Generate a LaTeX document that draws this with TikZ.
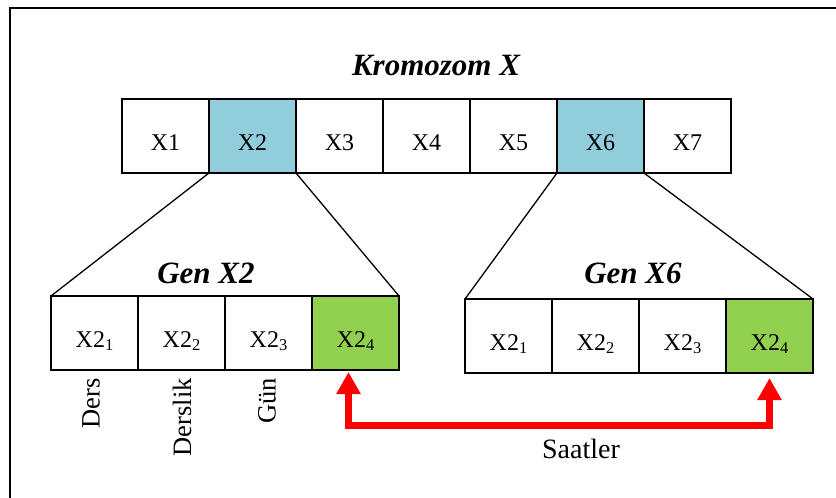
\documentclass[tikz,border=0pt]{standalone}
\usepackage{fontspec}
\setmainfont{Liberation Serif}
\usetikzlibrary{arrows.meta}
\definecolor{genblue}{HTML}{92CDDC}
\definecolor{gengreen}{HTML}{92D050}
\definecolor{linkred}{HTML}{FF0000}
\newcommand\lowsub[1]{\raisebox{-3pt}{\fontsize{16.5}{16.5}\selectfont #1}}

\begin{document}
\begin{tikzpicture}[x=1pt,y=-1pt,
  cell/.style={draw, line width=1.6pt, fill=white, inner sep=0pt, outer sep=0pt,
    minimum width=87pt, minimum height=74pt,
    font=\fontsize{24}{28}\selectfont, text height=29pt, text depth=0pt},
  title/.style={font=\fontsize{31}{36}\selectfont\bfseries\itshape, inner sep=0pt, anchor=base},
  zoomline/.style={line width=1.3pt},
  vlabel/.style={rotate=90, anchor=east, inner sep=0pt, font=\fontsize{26.5}{30}\selectfont},
  caption/.style={inner sep=0pt, anchor=base, font=\fontsize{28}{32}\selectfont},
  link/.style={draw=linkred, line width=7pt,
    {Triangle[width=23pt,length=22pt]}-{Triangle[width=23pt,length=22pt]}}
]
\useasboundingbox (0,0) rectangle (836,498);

% outer frame
\draw[line width=2pt] (9.5,498) -- (9.5,7.5) -- (836,7.5);

% chromosome
\node[title] (krom) at (436,75) {Kromozom X};
\node[cell] (c1) at (165.5,136) {X1};
\node[cell, fill=genblue] (c2) at (252.5,136) {X2};
\node[cell] (c3) at (339.5,136) {X3};
\node[cell] (c4) at (426.5,136) {X4};
\node[cell] (c5) at (513.5,136) {X5};
\node[cell, fill=genblue] (c6) at (600.5,136) {X6};
\node[cell] (c7) at (687.5,136) {X7};

% gene X2
\node[title] (genA) at (206,283) {Gen X2};
\node[cell] (a1) at (94.5,333) {X2\lowsub{1}};
\node[cell] (a2) at (181.5,333) {X2\lowsub{2}};
\node[cell] (a3) at (268.5,333) {X2\lowsub{3}};
\node[cell, fill=gengreen] (a4) at (355.5,333) {X2\lowsub{4}};

% gene X6
\node[title] (genB) at (633,283) {Gen X6};
\node[cell] (b1) at (508.5,336) {X2\lowsub{1}};
\node[cell] (b2) at (595.5,336) {X2\lowsub{2}};
\node[cell] (b3) at (682.5,336) {X2\lowsub{3}};
\node[cell, fill=gengreen] (b4) at (769.5,336) {X2\lowsub{4}};

% zoom lines from chromosome to genes
\draw[zoomline] (c2.south west) -- (a1.north west);
\draw[zoomline] (c2.south east) -- (a4.north east);
\draw[zoomline] (c6.south west) -- (b1.north west);
\draw[zoomline] (c6.south east) -- (b4.north east);

% gene meanings
\node[vlabel] (ders) at (91,378) {Ders};
\node[vlabel] (derslik) at (182,378) {Derslik};
\node[vlabel] (gun) at (267,378) {Gün};

% link between the fourth genes
\draw[link] ([xshift=-7pt,yshift=-2pt]a4.south) -- ++(0,53) -| ([yshift=-5pt]b4.south);
\node[caption] (saat) at (581,458) {Saatler};
\end{tikzpicture}
\end{document}
